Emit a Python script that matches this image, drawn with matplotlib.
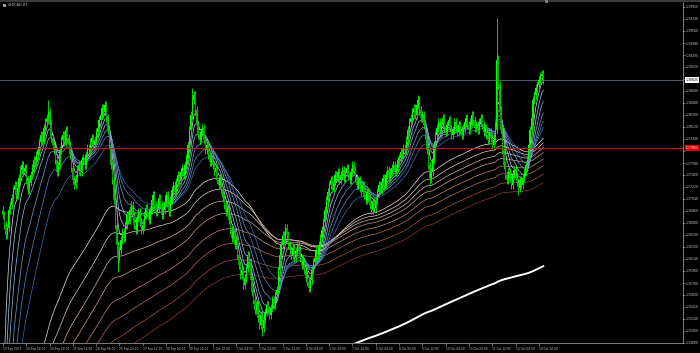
import matplotlib
matplotlib.use("Agg")
import matplotlib.pyplot as plt
import matplotlib.transforms as mtransforms
from matplotlib.patches import Rectangle
import numpy as np

# ---------------- data ----------------
symbol_label = "USDCAD,H1"

closes = [
    1.36800, 1.36650, 1.36500, 1.36605, 1.36875, 1.36950, 1.37055, 1.37175, 1.37250, 1.37100, 1.37205, 1.37355, 1.37475,
    1.37550, 1.37445, 1.37505, 1.37325, 1.37175, 1.37295, 1.37400, 1.37505,
    1.37625, 1.37595, 1.37700, 1.37775, 1.37895, 1.38000, 1.37925, 1.38105, 1.38195, 1.38255, 1.38345,
    1.38150, 1.37955, 1.37850, 1.37775, 1.37625, 1.37445, 1.37550, 1.37775,
    1.37925, 1.38000, 1.37895, 1.38075, 1.37955, 1.37850, 1.37700, 1.37505, 1.37325,
    1.37250, 1.37355, 1.37475, 1.37550, 1.37445, 1.37625, 1.37655, 1.37550, 1.37700,
    1.37805, 1.37775, 1.37895, 1.37955, 1.37850, 1.37925, 1.38045, 1.38105, 1.38225,
    1.38300, 1.38405, 1.38345, 1.38450, 1.38255, 1.38075,
    1.37850, 1.37550, 1.37325, 1.37025, 1.36650, 1.36350, 1.36155, 1.36275,
    1.36425, 1.36545, 1.36455, 1.36650, 1.36800, 1.36725, 1.36875, 1.36950, 1.36800, 1.36650,
    1.36575, 1.36755, 1.36845, 1.36695, 1.36575, 1.36650, 1.36800, 1.36905, 1.36845, 1.36725,
    1.36875, 1.37025, 1.37100, 1.36950, 1.36845, 1.36905, 1.37055, 1.36950, 1.36800, 1.36875,
    1.36995, 1.37100, 1.36950, 1.36845, 1.37025, 1.37175, 1.37250, 1.37145, 1.37295, 1.37400,
    1.37325, 1.37445, 1.37505, 1.37400, 1.37550, 1.37655,
    1.37850, 1.38075, 1.38300, 1.38525, 1.38600,
    1.38375, 1.38150, 1.38000, 1.37925, 1.38045, 1.38105, 1.37925, 1.37775, 1.37850,
    1.37700, 1.37595, 1.37655, 1.37550, 1.37445, 1.37505, 1.37325, 1.37250, 1.37355, 1.37175,
    1.37055, 1.36950, 1.36845, 1.36905, 1.36725, 1.36575, 1.36455, 1.36545, 1.36350, 1.36425,
    1.36200, 1.36050, 1.35900, 1.35975, 1.35750, 1.35855, 1.36005, 1.36200, 1.36095, 1.35825,
    1.35645, 1.35525, 1.35375, 1.35450, 1.35255, 1.35150, 1.35300, 1.35105, 1.35225, 1.35345,
    1.35450, 1.35375, 1.35300, 1.35405, 1.35525, 1.35450, 1.35600, 1.35675, 1.35975, 1.36200,
    1.36350, 1.36500, 1.36425, 1.36605, 1.36500, 1.36350, 1.36275, 1.36200, 1.36305, 1.36155,
    1.36245, 1.36350, 1.36275, 1.36155, 1.36050, 1.36095, 1.35975, 1.35855, 1.35795, 1.35705,
    1.35825, 1.35975, 1.36095, 1.36155, 1.36275, 1.36200, 1.36350, 1.36455, 1.36575, 1.36695,
    1.36875, 1.37025, 1.37145, 1.37250, 1.37325, 1.37205, 1.37295, 1.37400, 1.37355, 1.37445,
    1.37325, 1.37400, 1.37475, 1.37355, 1.37445, 1.37505, 1.37400, 1.37325, 1.37445, 1.37550,
    1.37475, 1.37355, 1.37250, 1.37325, 1.37205, 1.37145, 1.37250, 1.37100, 1.37025, 1.37145,
    1.37055, 1.36950, 1.36875, 1.36995, 1.36905, 1.37025, 1.37145, 1.37250, 1.37175, 1.37295,
    1.37355, 1.37250, 1.37400, 1.37475, 1.37355, 1.37445, 1.37505, 1.37550, 1.37445, 1.37505,
    1.37625, 1.37655, 1.37745, 1.37700, 1.37805, 1.37775, 1.37925, 1.38075, 1.38195, 1.38255,
    1.38345, 1.38405, 1.38300, 1.38450, 1.38525, 1.38375, 1.38255, 1.38300,
    1.38150, 1.38000, 1.37775, 1.37550, 1.37355, 1.37445, 1.37625, 1.37850,
    1.38000, 1.38105, 1.38195, 1.38075, 1.38150, 1.38255, 1.38105, 1.38045, 1.38150, 1.38225,
    1.38105, 1.38000, 1.38075, 1.38195, 1.38105, 1.38045, 1.38150, 1.38075, 1.38000, 1.38105,
    1.38195, 1.38255, 1.38150, 1.38075, 1.38195, 1.38300, 1.38225, 1.38105, 1.38150, 1.38075,
    1.38195, 1.38255, 1.38150, 1.38045, 1.38105, 1.38000, 1.37925, 1.38045, 1.37955, 1.37850,
    1.37925, 1.38075, 1.39125, 1.38750,
    1.38375, 1.38075, 1.37775, 1.37550, 1.37400, 1.37325, 1.37445, 1.37355, 1.37250, 1.37400,
    1.37475, 1.37355, 1.37295, 1.37205, 1.37325, 1.37250, 1.37355, 1.37445, 1.37550, 1.37625,
    1.37850, 1.38075, 1.38255, 1.38525, 1.38600, 1.38705, 1.38750, 1.38825, 1.38885, 1.38915, 1.38825,
]
first_open = 1.36875
wick = 0.00065
extreme_highs = {31: 1.38525, 130: 1.38705, 285: 1.38600, 339: 1.39755, 340: 1.39200}
extreme_lows = {79: 1.35945, 178: 1.34985, 293: 1.37250, 354: 1.37100}

fast_periods = [5, 8, 12, 18, 25, 35]
slow_periods = [80, 100, 120, 140, 165, 190, 220, 250]
long_period = 530
ma_seed = 1.3210
long_seed = 1.3180

level_red = 1.37805

x_labels = ["23 Sep 2013", "24 Sep 04:00", "24 Sep 20:00", "25 Sep 12:00", "26 Sep 04:00",
            "26 Sep 20:00", "27 Sep 12:00", "30 Sep 04:00", "30 Sep 20:00", "1 Oct 12:00",
            "2 Oct 04:00", "2 Oct 20:00", "3 Oct 12:00", "4 Oct 04:00", "4 Oct 20:00",
            "7 Oct 12:00", "8 Oct 04:00", "8 Oct 20:00", "9 Oct 12:00", "10 Oct 04:00",
            "10 Oct 20:00", "11 Oct 12:00", "14 Oct 04:00", "14 Oct 20:00"]
bars_per_label = 16
y_ticks = list(np.round(np.linspace(1.34880, 1.39920, 29), 5))

# ---------------- styles ----------------
fast_colors = ['#d2e6fa', '#afcff0', '#8cb9e8', '#6fa2dc', '#5289cc', '#3b70b8']
slow_colors = ['#f0e4dc', '#e4d0c4', '#d8bba9', '#cda28b', '#c18a70', '#b27055', '#a1573f', '#8f3f2a']
bg = 'black'
txt = '#c8c8c8'
fam = 'DejaVu Sans'
ylab_fs = 2.25
xlab_fs = 2.05

# ---------------- compute ----------------
closes = np.array(closes)
n = len(closes)
idx = np.arange(n)
opens = np.concatenate([[first_open], closes[:-1]])
highs = np.maximum(opens, closes) + wick
lows = np.minimum(opens, closes) - wick
for k, v in extreme_highs.items():
    highs[k] = v
for k, v in extreme_lows.items():
    lows[k] = v


def ema(vals, period, seed):
    a = 2.0 / (period + 1)
    e = seed
    out = []
    for v in vals:
        e = e + a * (v - e)
        out.append(e)
    return np.array(out)


fig = plt.figure(figsize=(7.0, 3.53), dpi=100, facecolor=bg)
W, H = 700, 353
ax = fig.add_axes([0, 10 / H, 683 / W, 341 / H])
ax.set_facecolor(bg)
ax.set_xlim(-2.06, 467.0)
ax.set_ylim(1.34880, 1.39995)

# moving averages
for p, c in zip(slow_periods, slow_colors):
    ax.plot(idx, ema(closes, p, ma_seed), color=c, lw=0.5, zorder=2)
for p, c in zip(fast_periods, fast_colors):
    ax.plot(idx, ema(closes, p, ma_seed), color=c, lw=0.5, zorder=3)
ax.plot(idx, ema(closes, long_period, long_seed), color='white', lw=1.4, zorder=3)

# candles
up = closes >= opens
ax.vlines(idx, lows, highs, color='#00d800', lw=0.7, zorder=4)
body_lo = np.minimum(opens, closes)
body_h = np.maximum(np.abs(closes - opens), 0.00008)
ax.bar(idx[up], body_h[up], bottom=body_lo[up], width=0.85, color='#00ff00', lw=0, zorder=5)
ax.bar(idx[~up], body_h[~up], bottom=body_lo[~up], width=0.85, color='#00a800', lw=0, zorder=5)

# horizontal lines
ax.axhline(level_red, color='#ff0000', lw=0.6, zorder=6)
ax.axhline(closes[-1], color='#5a6a78', lw=0.6, zorder=1)

# axes styling
for s in ['top', 'left']:
    ax.spines[s].set_visible(False)
for s in ['right', 'bottom']:
    ax.spines[s].set_color('#b0b0b0')
    ax.spines[s].set_linewidth(0.5)
ax.yaxis.tick_right()
ax.set_yticks(y_ticks)
# labels hidden under the two price boxes are left blank
ylabs = []
for v in y_ticks:
    if abs(v - closes[-1]) < 0.0008 or abs(v - level_red) < 0.0008:
        ylabs.append("")
    else:
        ylabs.append(f"{v:.5f}")
ax.set_yticklabels(ylabs, family=fam)
ax.tick_params(axis='y', colors='#b0b0b0', labelcolor=txt, labelsize=ylab_fs, length=1.5, width=0.4, pad=0.6)
xt = [i * bars_per_label for i in range(len(x_labels))]
ax.set_xticks(xt)
ax.set_xticklabels(x_labels, family=fam)
ax.tick_params(axis='x', colors='#b0b0b0', labelcolor=txt, labelsize=xlab_fs, length=2, width=0.4, pad=0.6)
for lab in ax.get_xticklabels():
    lab.set_horizontalalignment('left')

# price boxes on the right scale
trans = mtransforms.blended_transform_factory(ax.transAxes, ax.transData)
ax.text(1.0035, closes[-1], f"{closes[-1]:.5f}", transform=trans, fontsize=ylab_fs, family=fam, color='black',
        va='center', ha='left', zorder=10, clip_on=False,
        bbox=dict(boxstyle='square,pad=0.25', fc='white', ec='white', lw=0))
ax.text(1.0035, level_red, f"{level_red:.5f}", transform=trans, fontsize=ylab_fs, family=fam, color='#ffdede',
        va='center', ha='left', zorder=10, clip_on=False,
        bbox=dict(boxstyle='square,pad=0.25', fc='#e00000', ec='#e00000', lw=0))

# top band and caption
fig.patches.append(Rectangle((0, 1 - 2 / H), 1, 2 / H, transform=fig.transFigure, fc='#3a3a3a', ec='none'))
fig.patches.append(Rectangle((545 / W, 1 - 3 / H), 3 / W, 3 / H, transform=fig.transFigure, fc='#7a7a7a', ec='none'))
fig.patches.append(Rectangle((3 / W, 1 - 7 / H), 3 / W, 3 / H, transform=fig.transFigure, fc='#9a9a9a', ec='none'))
fig.text(8 / W, 1 - 5.5 / H, symbol_label, fontsize=2.4, family=fam, color=txt, va='center', ha='left')

fig.savefig("out.png", dpi=100, facecolor=bg)
